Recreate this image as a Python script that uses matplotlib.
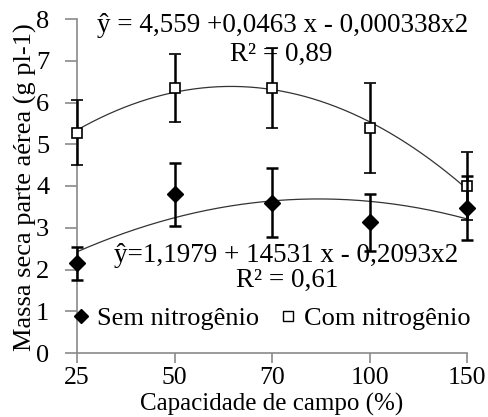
import matplotlib
matplotlib.use("Agg")
import matplotlib.pyplot as plt
import numpy as np
from matplotlib.lines import Line2D

FONT = 'Liberation Serif'

categories = ['25', '50', '70', '100', '150']
com_n = [5.28, 6.35, 6.35, 5.38, 4.0]
com_n_err = [0.77, 0.82, 0.95, 1.08, 0.81]
sem_n = [2.15, 3.8, 3.6, 3.13, 3.47]
sem_n_err = [0.4, 0.75, 0.82, 0.68, 0.77]
eq_com = "ŷ = 4,559 +0,0463 x - 0,000338x2"
r2_com = "R² = 0,89"
eq_sem = "ŷ=1,1979 + 14531 x - 0,2093x2"
r2_sem = "R² = 0,61"
legend_labels = ['Sem nitrogênio', 'Com nitrogênio']

fig = plt.figure(figsize=(4.88, 4.17), dpi=100)
ax = fig.add_axes([77/488, 1-353/417, 390/488, 334/417])

pos = np.arange(len(categories))
xs = np.linspace(pos[0], pos[-1], 200)
gray = '#8a8a8a'

for vals in (com_n, sem_n):
    coef = np.polyfit(pos, vals, 2)
    ax.plot(xs, np.polyval(coef, xs), color='#333333', lw=0.9, zorder=2, clip_on=False)

ax.errorbar(pos, com_n, yerr=com_n_err, fmt='s', ms=7, mfc='white', mec='black', mew=1.2,
            ecolor='black', elinewidth=1.8, capsize=4.5, capthick=1.8, zorder=3, clip_on=False)
ax.errorbar(pos, sem_n, yerr=sem_n_err, fmt='D', ms=8, mfc='black', mec='black',
            ecolor='black', elinewidth=1.8, capsize=4.5, capthick=1.8, zorder=4, clip_on=False)

ax.set_xlim(0, 4)
ax.set_ylim(0, 8)
ax.set_xticks(pos)
ax.set_xticklabels(categories, family=FONT)
ax.set_yticks(range(0, 9))
ax.set_yticklabels([str(v) for v in range(0, 9)], family=FONT)
for s in ['top', 'right']:
    ax.spines[s].set_visible(False)
for s in ['left', 'bottom']:
    ax.spines[s].set_color(gray)
    ax.spines[s].set_linewidth(1.2)
ax.tick_params(axis='y', direction='out', length=9, width=1.2, color=gray, labelsize=19, pad=11)
ax.tick_params(axis='x', direction='out', length=7, width=1.2, color=gray, labelsize=18.5, pad=3)

def px(x, y):
    return x/488, 1-y/417

fig.text(*px(272, 404), 'Capacidade de campo (%)', ha='center', va='center', fontsize=18, family=FONT)
fig.text(*px(25, 187), 'Massa seca parte aérea (g pl-1)', ha='center', va='center',
         rotation=90, fontsize=19, family=FONT)

fig.text(*px(283, 26), eq_com, ha='center', va='center', fontsize=19.5, family=FONT)
fig.text(*px(281, 54), r2_com, ha='center', va='center', fontsize=19.5, family=FONT)
fig.text(*px(286, 255), eq_sem, ha='center', va='center', fontsize=19.5, family=FONT)
fig.text(*px(287, 280), r2_sem, ha='center', va='center', fontsize=19.5, family=FONT)

handles = [Line2D([], [], marker='D', ls='none', color='black', ms=7.5),
           Line2D([], [], marker='s', ls='none', mfc='white', mec='black', ms=6.5)]
fig.legend(handles, legend_labels, loc='center', bbox_to_anchor=px(272, 318), ncol=2,
           frameon=False, prop={'family': FONT, 'size': 19}, handlelength=0.6,
           handletextpad=0.3, columnspacing=0.8, borderpad=0)

fig.savefig('out.png', dpi=100)
